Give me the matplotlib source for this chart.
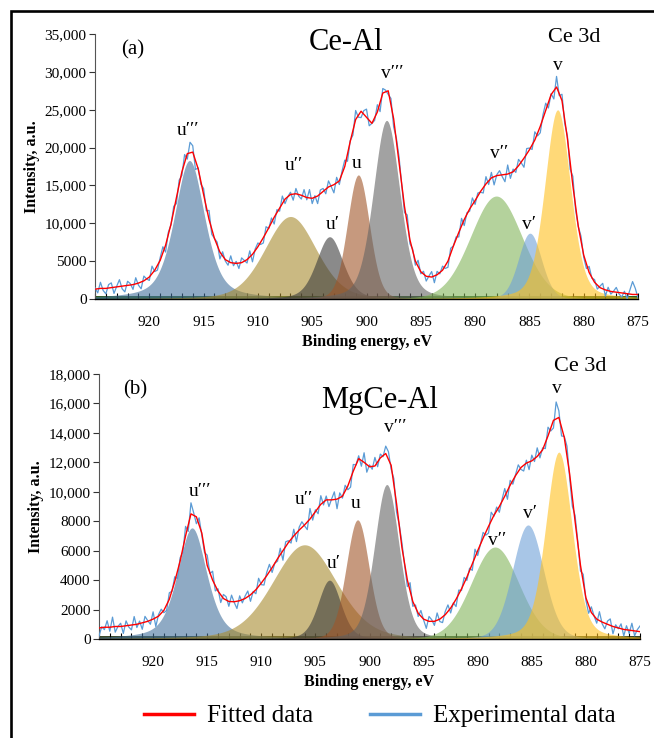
import numpy as np
import matplotlib
matplotlib.use("Agg")
import matplotlib.pyplot as plt
from matplotlib.patches import Rectangle
from matplotlib.lines import Line2D
from matplotlib.ticker import FuncFormatter, MultipleLocator

plt.rcParams['font.family'] = ['Liberation Serif', 'DejaVu Serif']

# ---------------- data ----------------
peak_labels = ["u′′′", "u′′", "u′", "u", "v′′′", "v′′", "v′", "v"]
peak_colors = ["#44729d", "#a88b2f", "#3c3c3c", "#a05528", "#646464", "#82b45a", "#6ea0d7", "#ffc01e"]

# fitted components, panel (a) Ce-Al : centre (eV), height (a.u.), FWHM (eV), Lorentzian fraction
centers_a = [916.3, 907.0, 903.4, 900.75, 898.15, 888.05, 884.95, 882.4]
heights_a = [18300, 10900, 8230, 16400, 23600, 13600, 8700, 25000]
fwhm_a = [3.3, 5.6, 2.9, 2.4, 2.9, 5.6, 2.5, 2.8]
mix_a = [0.5, 0.25, 0.35, 0.15, 0.3, 0.1, 0.15, 0.3]

# fitted components, panel (b) MgCe-Al
centers_b = [916.4, 906.0, 903.7, 901.1, 898.4, 888.4, 885.35, 882.5]
heights_b = [7550, 6400, 4000, 8100, 10500, 6250, 7750, 12700]
fwhm_b = [3.2, 7.0, 2.5, 2.5, 2.7, 5.2, 3.4, 2.9]
mix_b = [0.5, 0.25, 0.3, 0.15, 0.25, 0.1, 0.15, 0.3]

# fitted envelope (every 0.5 eV from 925 to 875 eV)
energy_fit = np.linspace(925, 875, 101)
fitted_a = [1300, 1400, 1400, 1500, 1600, 1700, 1800, 1900, 2100, 2400, 2900, 3800, 5100, 7100, 9900,
            13400, 16800, 19200, 19400, 17200, 13800, 10500, 8000, 6200, 5200, 4800, 4700, 4800, 5200,
            5900, 6900, 8100, 9400, 10800, 12000, 13200, 13800, 13900, 13700, 13400, 13300, 13600, 14200,
            14800, 15100, 15600, 17500, 20800, 23700, 24800, 24000, 23200, 24700, 27200, 27500, 23800,
            18000, 12200, 7800, 5000, 3600, 3000, 2900, 3200, 3800, 5000, 7000, 8800, 10500, 11900, 13000,
            14200, 15200, 16000, 16300, 16400, 16500, 16800, 17600, 18600, 19700, 21000, 22800, 24900,
            27000, 28000, 26200, 21200, 15000, 9600, 5800, 3500, 2200, 1500, 1200, 1000, 900, 800, 700,
            600, 600]
fitted_b = [750, 800, 800, 850, 850, 900, 950, 1000, 1100, 1200, 1350, 1550, 1950, 2700, 3900, 5300,
            7000, 8500, 8300, 7200, 5000, 4000, 3250, 2750, 2550, 2530, 2600, 2750, 3000, 3350, 3800,
            4300, 4850, 5450, 6000, 6550, 7000, 7400, 7750, 8150, 8650, 9150, 9450, 9450, 9500, 9700,
            10400, 11400, 12250, 12000, 11700, 11750, 12300, 12600, 11800, 9200, 6200, 4000, 2550, 1750,
            1350, 1200, 1200, 1350, 1650, 2100, 2700, 3400, 4200, 5100, 6000, 6850, 7650, 8400, 9000,
            9700, 10450, 11100, 11650, 11950, 12100, 12400, 12850, 13800, 14850, 15050, 13700, 11200,
            8000, 5000, 2800, 1800, 1350, 1150, 1000, 850, 750, 650, 600, 550, 500]

# experimental spectrum (every 0.25 eV from 925 to 875 eV)
energy_exp = np.linspace(925, 875, 201)
experimental_a = [1480, 810, 2210, 1130, 680, 1900, 2130, 740, 1690, 2550, 1340, 940, 2340, 2030, 1270,
                  2810, 1830, 1350, 3030, 2650, 2450, 4340, 3620, 3820, 5460, 6900, 6200, 8800, 9800,
                  12250, 12600, 15700, 16320, 19080, 18480, 20700, 20240, 17100, 17320, 15140, 14600,
                  11650, 11700, 8550, 8000, 7500, 5300, 6240, 5020, 4460, 5700, 4390, 4970, 4030, 5430,
                  5090, 4750, 6360, 4910, 6600, 7400, 7200, 7400, 9550, 9300, 10700, 9900, 11800, 11600,
                  13600, 12600, 13500, 14100, 13050, 14600, 13600, 13200, 14450, 13100, 14450, 12600,
                  13650, 12600, 14400, 14600, 13900, 15600, 14850, 14020, 16070, 15120, 16910, 18340,
                  18190, 20920, 21650, 24900, 24010, 23960, 24880, 25080, 22880, 23200, 23590, 25660,
                  24750, 27800, 27590, 27020, 26490, 22720, 21260, 18720, 14980, 11400, 11100, 7300, 6600,
                  4460, 5110, 3330, 3660, 2370, 3040, 3620, 2150, 3650, 3320, 4340, 4040, 4190, 6700, 7000,
                  8200, 8200, 10650, 9700, 11400, 11600, 13350, 12500, 14000, 14100, 14000, 16160, 15120,
                  16720, 15070, 16420, 16950, 16160, 15490, 17700, 15930, 17160, 16720, 18440, 17980,
                  17400, 19870, 19940, 19750, 22080, 21540, 21960, 24330, 25860, 25230, 27120, 26420,
                  29400, 26860, 27040, 23220, 21560, 17140, 16200, 11800, 9600, 8300, 5530, 4020, 4310,
                  2760, 2560, 1310, 1680, 2070, 390, 1550, 640, 1040, 1530, 670, 260, 1020, 50, 1190, 2300,
                  1410, 150]
experimental_b = [200, 830, 635, 1240, 525, 1485, 465, 850, 1070, 380, 1230, 815, 620, 1525, 780, 1215,
                  660, 1535, 1255, 1000, 1845, 845, 1660, 2025, 1785, 1940, 3140, 3245, 4230, 4105, 5520,
                  5890, 7650, 7310, 9250, 8570, 7830, 8230, 7070, 5875, 5695, 4435, 4605, 3265, 3410, 2475,
                  3025, 2870, 2220, 2980, 2475, 2070, 2930, 2455, 2915, 3260, 2560, 3230, 3075, 4125, 3690,
                  3665, 4520, 5070, 4520, 5150, 5285, 6165, 5350, 6600, 6680, 6515, 7455, 6615, 7595, 7965,
                  7685, 7430, 8865, 8075, 8780, 8510, 9735, 9105, 9710, 8995, 9515, 9995, 8850, 9925, 9570,
                  10440, 10140, 10315, 11855, 11825, 12445, 11735, 12650, 11330, 11830, 11530, 12335,
                  11700, 12560, 12385, 13100, 12720, 11540, 10890, 8615, 7765, 6525, 4990, 3560, 3825,
                  2220, 2315, 1530, 1935, 1295, 725, 1530, 1310, 925, 1770, 1185, 1115, 1870, 2315, 1770,
                  2455, 2205, 3325, 3290, 4185, 3980, 4815, 4660, 6100, 5675, 6425, 7240, 7055, 7195, 8610,
                  8335, 8960, 8610, 9480, 10220, 9490, 10775, 10515, 11165, 11830, 11520, 11410, 12145,
                  11505, 12490, 12055, 12985, 12300, 12980, 12935, 14385, 14130, 14330, 16100, 15505,
                  13790, 13765, 13100, 10940, 9015, 8390, 6630, 4615, 4395, 2635, 1750, 2185, 1575, 1075,
                  1855, 1040, 690, 1220, 1365, 355, 965, 695, 1030, 210, 900, 380, 1070, 220, 635, 885]

label_pos_a = [(916.4, 22300), (906.7, 17600), (903.1, 9800), (900.9, 17900),
               (897.6, 29800), (887.8, 19200), (885.0, 9800), (882.35, 30900)]
label_pos_b = [(915.7, 10000), (906.1, 9500), (903.3, 5150), (901.3, 9200),
               (897.65, 14400), (888.2, 6700), (885.2, 8550), (882.65, 17000)]

yticks_a = [0, 5000, 10000, 15000, 20000, 25000, 30000, 35000]
yticks_b = [0, 2000, 4000, 6000, 8000, 10000, 12000, 14000, 16000, 18000]
xticks = [920, 915, 910, 905, 900, 895, 890, 885, 880, 875]

grid = np.linspace(925, 875, 501)


def component(c, h, w, m):
    t = (grid - c) / w
    return h * ((1 - m) * np.exp(-4 * np.log(2) * t ** 2) + m / (1 + 4 * t ** 2))


def fmt(v, pos):
    return f"{v:,.0f}" if v >= 10000 else f"{v:.0f}"


W, H = 654, 738
fig = plt.figure(figsize=(W / 100, H / 100), dpi=100)

fig.patches.append(Rectangle((11 / W, -0.2), 1.5, 1 - 11 / H + 0.2, transform=fig.transFigure,
                             fill=False, edgecolor="black", linewidth=1.9, clip_on=False))


def draw(rect, centers, heights, fwhm, mix, fitted, experimental, ymax, yticks, tag, title,
         label_pos, title_xy, ce_xy, tag_xy, strip_color):
    ax = fig.add_axes(rect)
    ax.fill_between(grid, 0, ymax * 0.011, color=strip_color, lw=0, zorder=1)
    for c, h, w, m, col in zip(centers, heights, fwhm, mix, peak_colors):
        ax.fill_between(grid, 0, component(c, h, w, m), color=col, alpha=0.6, lw=0, zorder=2)
    ax.plot(energy_exp, experimental, color="#5b9bd5", lw=0.9, zorder=3)
    ax.plot(energy_fit, fitted, color="#ff0000", lw=1.0, zorder=4)
    for lab, (x, y) in zip(peak_labels, label_pos):
        ax.text(x, y, lab, ha="center", va="center", fontsize=14)
    ax.text(*tag_xy, tag, ha="center", va="center", fontsize=15)
    ax.text(*title_xy, title, ha="center", va="center", fontsize=22)
    ax.text(*ce_xy, "Ce 3d", ha="center", va="center", fontsize=16, clip_on=False)
    ax.set_xlim(925, 875)
    ax.set_ylim(0, ymax)
    ax.set_xticks(xticks)
    ax.xaxis.set_minor_locator(MultipleLocator(1))
    ax.tick_params(axis="x", which="both", direction="in", length=4, width=0.8, pad=12, labelsize=11)
    ax.set_yticks(yticks)
    ax.yaxis.set_major_formatter(FuncFormatter(fmt))
    ax.tick_params(axis="y", direction="out", length=4, width=0.8, pad=2, labelsize=11, colors="#333333")
    ax.tick_params(axis="y", labelcolor="black")
    for s in ("top", "right"):
        ax.spines[s].set_visible(False)
    ax.spines["left"].set_color("#555555")
    ax.spines["left"].set_linewidth(0.8)
    ax.spines["bottom"].set_linewidth(1.0)
    ax.set_xlabel("Binding energy, eV", fontsize=11.5, fontweight="bold", labelpad=4)
    ax.set_ylabel("Intensity, a.u.", fontsize=11.5, fontweight="bold", labelpad=3)
    return ax


draw([95 / W, 1 - 299 / H, 543 / W, 265 / H], centers_a, heights_a, fwhm_a, mix_a, fitted_a,
     experimental_a, 35000, yticks_a, "(a)", "Ce-Al", label_pos_a,
     (901.9, 33900), (880.9, 34500), (921.5, 32900), "#2f5f22")
draw([99 / W, 1 - 639 / H, 541 / W, 265 / H], centers_b, heights_b, fwhm_b, mix_b, fitted_b,
     experimental_b, 18000, yticks_b, "(b)", "MgCe-Al", label_pos_b,
     (899.1, 16200), (880.5, 18500), (921.7, 16900), "#3b4a2a")

handles = [Line2D([], [], color="#ff0000", lw=2.5), Line2D([], [], color="#5b9bd5", lw=2.5)]
fig.legend(handles, ["Fitted data", "Experimental data"], loc="center", bbox_to_anchor=(0.581, 1 - 716 / H),
           ncol=2, frameon=False, fontsize=18, handlelength=2.0, columnspacing=2.3, handletextpad=0.5)

fig.savefig("out.png", dpi=100)
